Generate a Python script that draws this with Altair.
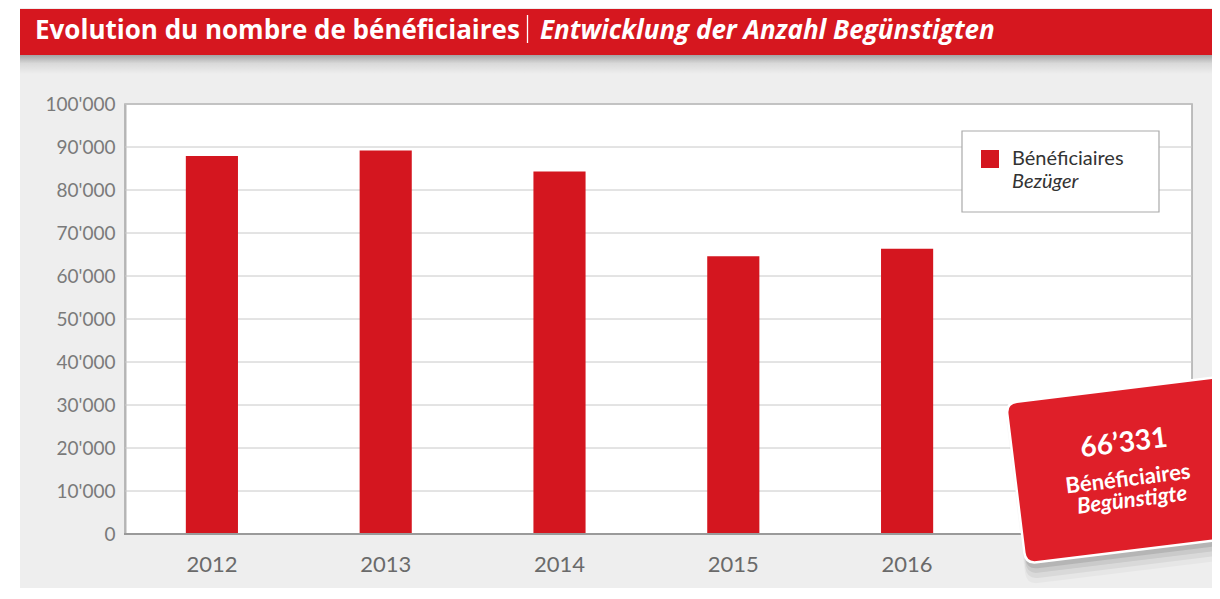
import altair as alt
import pandas as pd

# ---- data ----
years = ["2012", "2013", "2014", "2015", "2016"]
beneficiaries = [87900, 89200, 84300, 64600, 66331]
y_ticks = [0, 10000, 20000, 30000, 40000, 50000, 60000, 70000, 80000, 90000, 100000]

title_fr = "Evolution du nombre de bénéficiaires"
title_de = "Entwicklung der Anzahl Begünstigten"
legend_fr = "Bénéficiaires"
legend_de = "Bezüger"
badge_value = "66’331"
badge_fr = "Bénéficiaires"
badge_de = "Begünstigte"

df = pd.DataFrame({"year": years, "value": beneficiaries})
grid_df = pd.DataFrame({"value": y_ticks})

W, H = 1067, 430
PAD = {"left": 117, "top": 96, "right": 20, "bottom": 54}
RED = "#d4161f"
FONT = "Lato"
TFONT = "Open Sans"

one = pd.DataFrame({"a": [0]})

# white strip left of grey panel
strip = alt.Chart(one).mark_rect(color="white").encode(
    x=alt.value(-117), x2=alt.value(-105), y=alt.value(-96), y2=alt.value(H + 54))

# title banner
banner = alt.Chart(one).mark_rect(color="#d6171f").encode(
    x=alt.value(-105), x2=alt.value(W + 20), y=alt.value(-95), y2=alt.value(-49))
shadow = alt.Chart(one).mark_rect(
    fill=alt.LinearGradient(
        gradient="linear", x1=0, x2=0, y1=0, y2=1,
        stops=[alt.GradientStop(color="#a4a4a4", offset=0),
               alt.GradientStop(color="#d9d9d9", offset=0.45),
               alt.GradientStop(color="#eeeeee", offset=1)])
).encode(x=alt.value(-105), x2=alt.value(W + 20), y=alt.value(-49), y2=alt.value(-30))

t1 = alt.Chart(one).mark_text(
    text=title_fr, font=TFONT, fontSize=26, fontWeight="bold", color="white",
    align="left", baseline="alphabetic").encode(x=alt.value(-90), y=alt.value(-65))
sep = alt.Chart(one).mark_rule(color="white", strokeWidth=1.3).encode(
    x=alt.value(402.5), y=alt.value(-89), y2=alt.value(-61))
t2 = alt.Chart(one).mark_text(
    text=title_de, font=TFONT, fontSize=26, fontWeight="bold", fontStyle="italic",
    color="white", align="left", baseline="alphabetic").encode(x=alt.value(415), y=alt.value(-65))

# grid lines across the whole plot
grid = alt.Chart(grid_df).mark_rule(color="#c8c8c8", strokeWidth=1).encode(
    y=alt.Y("value:Q"), x=alt.value(0), x2=alt.value(W))

# bars
bars = alt.Chart(df).mark_bar(color=RED).encode(
    x=alt.X("year:N", sort=years,
            scale=alt.Scale(range=[0, 869], paddingInner=0.7, paddingOuter=0.35),
            axis=alt.Axis(title=None, domain=False, ticks=False, labelAngle=0,
                          labelFont=FONT, labelFontSize=22, labelColor="#6a6a6a",
                          labelPadding=20)),
    y=alt.Y("value:Q",
            scale=alt.Scale(domain=[0, 100000], nice=False),
            axis=alt.Axis(title=None, values=y_ticks, grid=False,
                          domain=True, domainColor="#b5b5b5", domainWidth=2,
                          ticks=False, labelFont=FONT, labelFontSize=19,
                          labelColor="#7a7a7a", labelPadding=10,
                          labelExpr="datum.value == 0 ? '0' : floor(datum.value / 1000) + \"'000\"")),
)

baseline = alt.Chart(one).mark_rule(color="#9a9a9a", strokeWidth=2).encode(
    x=alt.value(-1), x2=alt.value(W), y=alt.value(H))

# legend
leg_box = alt.Chart(one).mark_rect(fill="white", stroke="#aaaaaa", strokeWidth=1.2).encode(
    x=alt.value(837), x2=alt.value(1034), y=alt.value(27), y2=alt.value(108))
leg_sw = alt.Chart(one).mark_rect(color=RED).encode(
    x=alt.value(856), x2=alt.value(874), y=alt.value(46), y2=alt.value(64))
leg_t1 = alt.Chart(one).mark_text(
    text=legend_fr, font=FONT, fontSize=20, color="#333333", align="left",
    baseline="alphabetic").encode(x=alt.value(887), y=alt.value(61))
leg_t2 = alt.Chart(one).mark_text(
    text=legend_de, font=FONT, fontSize=20, fontStyle="italic", color="#333333",
    align="left", baseline="alphabetic").encode(x=alt.value(887), y=alt.value(84))

# badge
badge_path = ("M-0.9,-0.735 L0.9,-0.735 Q1,-0.735 1,-0.635 L1,0.635 Q1,0.735 0.9,0.735 "
              "L-0.9,0.735 Q-1,0.735 -1,0.635 L-1,-0.635 Q-1,-0.735 -0.9,-0.735 Z")
BX, BY = 1000, 366
shadows = []
for dx, dy, op, s in [(2, 5, 0.10, 222), (4, 8, 0.07, 226), (6, 11, 0.05, 231), (8, 14, 0.03, 236)]:
    shadows.append(alt.Chart(one).mark_point(
        shape=badge_path, filled=True, fill="#000000", opacity=op, strokeWidth=0,
        size=s * s, angle=353).encode(x=alt.value(BX + dx), y=alt.value(BY + dy)))
badge = alt.Chart(one).mark_point(
    shape=badge_path, filled=True, fill="#df1f29", stroke="white", strokeWidth=2.5,
    opacity=1, size=220 * 220, angle=353).encode(x=alt.value(BX), y=alt.value(BY))
b1 = alt.Chart(one).mark_text(
    text=badge_value, font=FONT, fontSize=28, fontWeight="bold", color="white",
    angle=353, align="center", baseline="middle").encode(x=alt.value(999), y=alt.value(340))
b2 = alt.Chart(one).mark_text(
    text=badge_fr, font=FONT, fontSize=22, fontWeight="bold", color="white",
    angle=353, align="center", baseline="middle").encode(x=alt.value(1003), y=alt.value(375))
b3 = alt.Chart(one).mark_text(
    text=badge_de, font=FONT, fontSize=22, fontWeight="bold", fontStyle="italic",
    color="white", angle=353, align="center", baseline="middle").encode(
    x=alt.value(1007), y=alt.value(396))

chart = alt.layer(
    strip, banner, shadow, t1, sep, t2, grid, bars, baseline,
    leg_box, leg_sw, leg_t1, leg_t2, *shadows, badge, b1, b2, b3
).properties(
    width=W, height=H,
    autosize=alt.AutoSizeParams(type="none"),
    padding=PAD,
    background="#eeeeee",
).configure_view(fill="white", stroke="#aaaaaa", strokeWidth=1.5)

chart.save("out.html", embed_options={"renderer": "svg", "actions": False})
